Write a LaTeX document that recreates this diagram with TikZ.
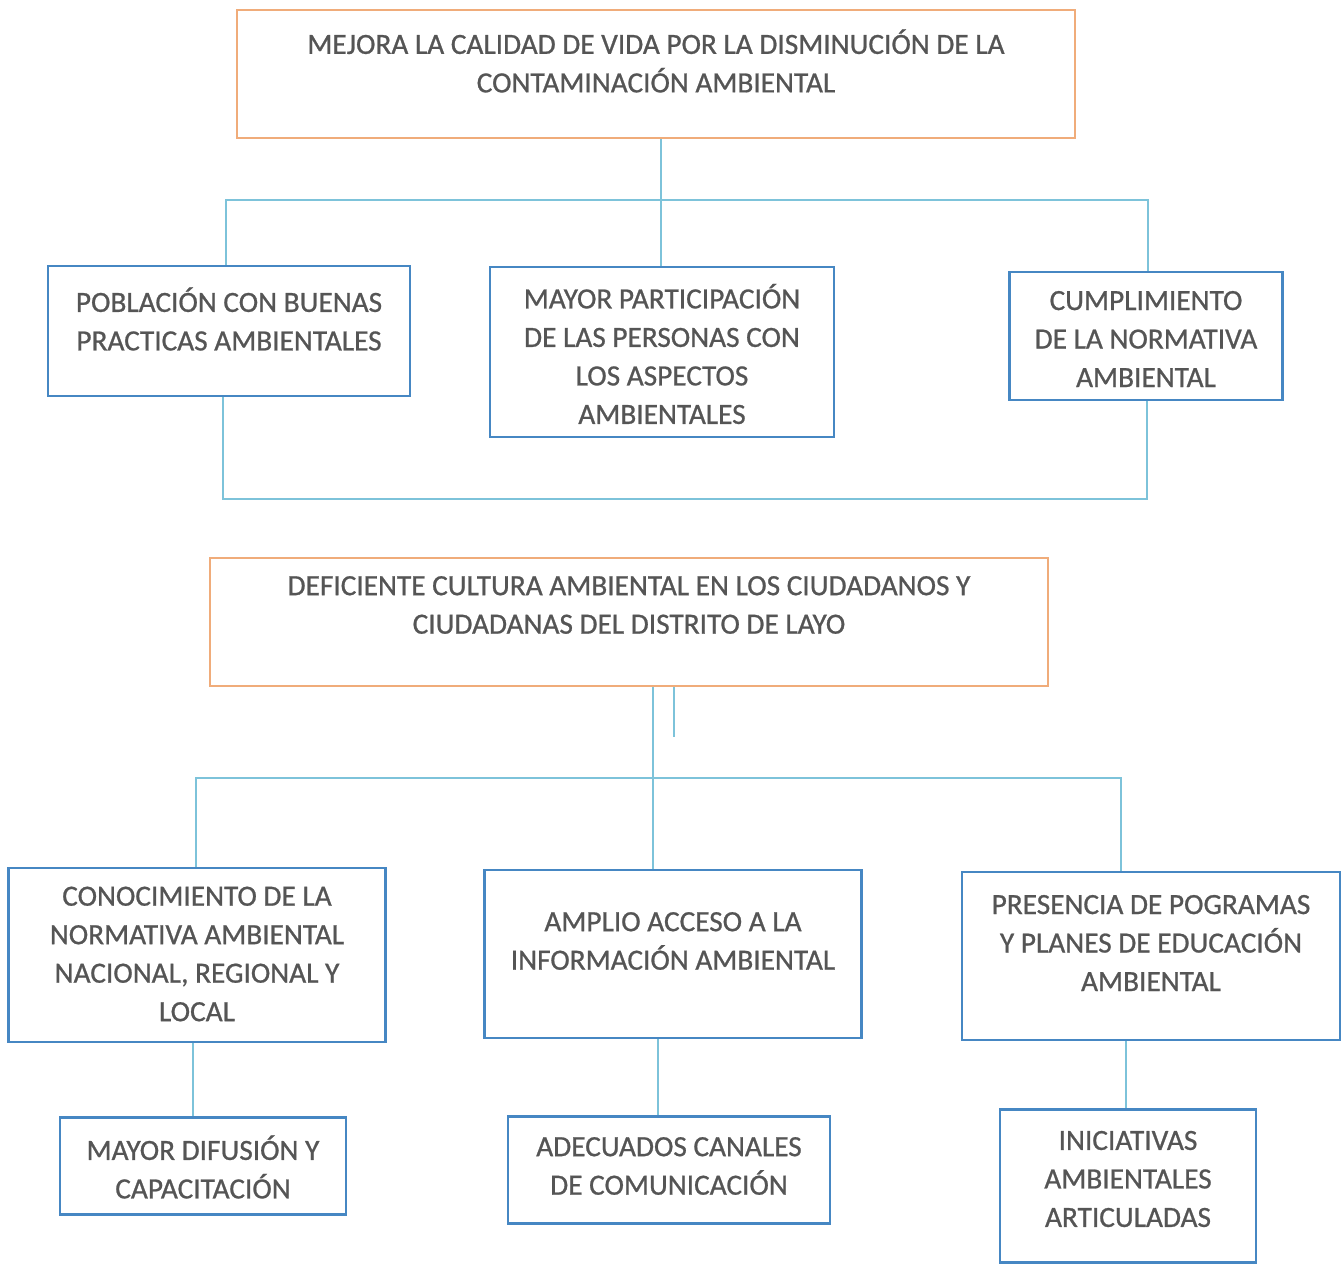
\documentclass[tikz,border=0pt]{standalone}
\usepackage{fontspec}
\setmainfont{Carlito}
\newfontfamily\txtfont{Carlito}[FakeBold=0.8]
\definecolor{obord}{RGB}{240,172,122}
\definecolor{bbord}{RGB}{70,135,195}
\definecolor{conn}{RGB}{125,195,218}
\definecolor{txtc}{RGB}{85,85,85}
\begin{document}
\begin{tikzpicture}[x=1pt,y=-1pt,
  obox/.style={draw=obord,line width=2.6pt,rectangle,inner sep=0pt},
  bbox/.style={draw=bbord,line width=2.6pt,rectangle,inner sep=0pt},
  txt/.style={text=txtc,align=center,inner sep=0pt,font=\txtfont\fontsize{29.3pt}{38.5pt}\selectfont},
  cn/.style={draw=conn,line width=1.4pt}]
\useasboundingbox (0,0) rectangle (1344,1265);
\fill[white] (0,0) rectangle (1344,1265);
% top box
\node[obox,minimum width=838pt,minimum height=128pt] (top) at (656,74) {};
\node[txt] (toptxt) at (656,61) {MEJORA LA CALIDAD DE VIDA POR LA DISMINUCIÓN DE LA\\CONTAMINACIÓN AMBIENTAL};
% row 1
\node[bbox,minimum width=362pt,minimum height=130pt] (b1) at (229,331) {};
\node[txt] (b1t) at (229,319) {POBLACIÓN CON BUENAS\\PRACTICAS AMBIENTALES};
\node[bbox,minimum width=344pt,minimum height=170pt] (b2) at (662,352) {};
\node[txt] (b2t) at (662,354) {MAYOR PARTICIPACIÓN\\DE LAS PERSONAS CON\\LOS ASPECTOS\\AMBIENTALES};
\node[bbox,minimum width=273pt,minimum height=128pt] (b3) at (1146,336) {};
\node[txt] (b3t) at (1146,339) {CUMPLIMIENTO\\DE LA NORMATIVA\\AMBIENTAL};
% connectors top
\coordinate (j1) at (661,200);
\draw[cn] (top.south -| j1) -- (b2.north -| j1);
\draw[cn] (b1.north -| 226,0) -- (226,200) -- (1148,200) -- (b3.north -| 1148,0);
\draw[cn] (b1.south -| 223,0) -- (223,499) -- (1147,499) -- (b3.south -| 1147,0);
% middle box
\node[obox,minimum width=838pt,minimum height=128pt] (mid) at (629,622) {};
\node[txt] (midtxt) at (629,605) {DEFICIENTE CULTURA AMBIENTAL EN LOS CIUDADANOS Y\\CIUDADANAS DEL DISTRITO DE LAYO};
% row 2
\node[bbox,minimum width=377pt,minimum height=174pt] (b4) at (197,955) {};
\node[txt] (b4t) at (197,954) {CONOCIMIENTO DE LA\\NORMATIVA AMBIENTAL\\NACIONAL, REGIONAL Y\\LOCAL};
\node[bbox,minimum width=377pt,minimum height=168pt] (b5) at (673,954) {};
\node[txt] (b5t) at (673,941) {AMPLIO ACCESO A LA\\INFORMACIÓN AMBIENTAL};
\node[bbox,minimum width=378pt,minimum height=168pt] (b6) at (1151,956) {};
\node[txt] (b6t) at (1151,943) {PRESENCIA DE POGRAMAS\\Y PLANES DE EDUCACIÓN\\AMBIENTAL};
% connectors middle
\draw[cn] (mid.south -| 653,0) -- (b5.north -| 653,0);
\coordinate (stub) at (674,737);
\draw[cn] (mid.south -| stub) -- (stub);
\draw[cn] (b4.north -| 196,0) -- (196,778) -- (1121,778) -- (b6.north -| 1121,0);
% row 3
\node[bbox,minimum width=286pt,minimum height=97pt] (b7) at (203,1166) {};
\node[txt] (b7t) at (203,1167) {MAYOR DIFUSIÓN Y\\CAPACITACIÓN};
\node[bbox,minimum width=322pt,minimum height=107pt] (b8) at (669,1170) {};
\node[txt] (b8t) at (669,1166) {ADECUADOS CANALES\\DE COMUNICACIÓN};
\node[bbox,minimum width=256pt,minimum height=153pt] (b9) at (1128,1186) {};
\node[txt] (b9t) at (1128,1179) {INICIATIVAS\\AMBIENTALES\\ARTICULADAS};
\draw[cn] (b4.south -| 193,0) -- (b7.north -| 193,0);
\draw[cn] (b5.south -| 658,0) -- (b8.north -| 658,0);
\draw[cn] (b6.south -| 1126,0) -- (b9.north -| 1126,0);
\end{tikzpicture}
\end{document}
